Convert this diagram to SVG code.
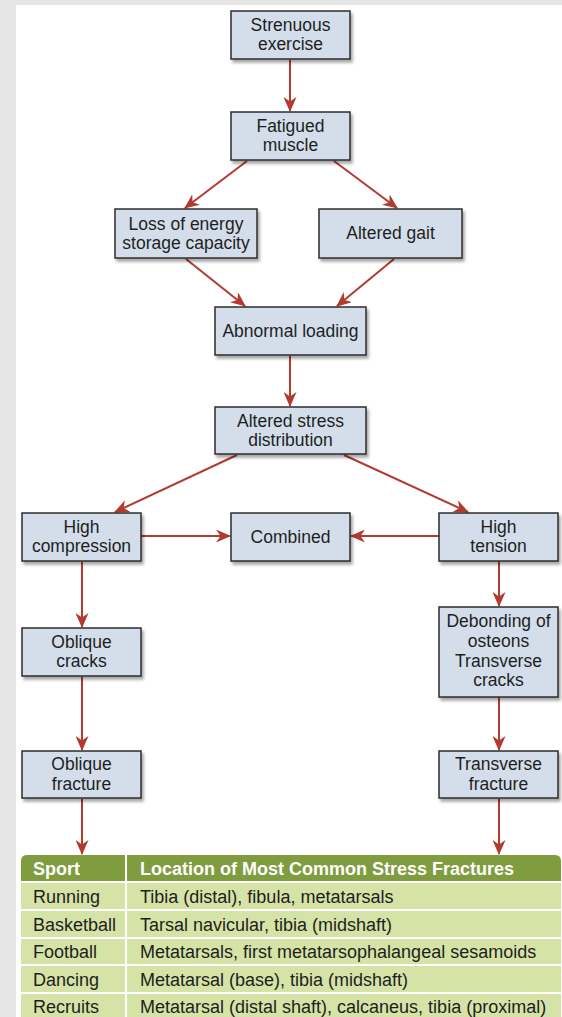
<svg xmlns="http://www.w3.org/2000/svg" width="562" height="1017" viewBox="0 0 562 1017">
<style>
.box{fill:#d3deea;stroke:#2b2b2b;stroke-width:1.5;filter:url(#sh)}
.t{font-family:"Liberation Sans",Arial,sans-serif;font-size:17.5px;fill:#1e1e1e;text-anchor:middle}
.c{stroke:#b23a2f;stroke-width:2;fill:none;marker-end:url(#ah)}
.tt{font-family:"Liberation Sans",Arial,sans-serif;font-size:18px;fill:#1e1e1e}
.th{font-family:"Liberation Sans",Arial,sans-serif;font-size:18px;font-weight:bold;fill:#ffffff}
.row{fill:#d6e3a6}
.sep{stroke:#ffffff;stroke-width:2}
</style>
<defs>
<filter id="sh" x="-10%" y="-10%" width="130%" height="140%">
<feDropShadow dx="2" dy="3" stdDeviation="1.8" flood-color="#000" flood-opacity="0.35"/>
</filter>
<marker id="ah" markerUnits="userSpaceOnUse" markerWidth="15" markerHeight="13" refX="14" refY="6.5" orient="auto" viewBox="0 0 15 13">
<path d="M0,0 L15,6.5 L0,13 L4.5,6.5 z" fill="#b23a2f"/>
</marker>
</defs>
<rect x="0" y="0" width="562" height="1017" fill="#e6e6e6"/>
<rect x="16" y="5" width="546" height="1012" fill="#ffffff"/>

<g id="connectors">
<line class="c" x1="290" y1="60" x2="290" y2="111"/>
<line class="c" x1="247" y1="161" x2="185" y2="208"/>
<line class="c" x1="334" y1="161" x2="397" y2="208"/>
<line class="c" x1="186" y1="259" x2="245" y2="306"/>
<line class="c" x1="394" y1="259" x2="337" y2="306"/>
<line class="c" x1="290" y1="356" x2="290" y2="406"/>
<line class="c" x1="237" y1="455" x2="115" y2="512"/>
<line class="c" x1="344" y1="455" x2="468" y2="512"/>
<line class="c" x1="141" y1="536" x2="230" y2="536"/>
<line class="c" x1="439" y1="536" x2="351" y2="536"/>
<line class="c" x1="82" y1="562" x2="82" y2="627"/>
<line class="c" x1="499" y1="562" x2="499" y2="606"/>
<line class="c" x1="82" y1="677" x2="82" y2="750"/>
<line class="c" x1="499" y1="698" x2="499" y2="750"/>
<line class="c" x1="82" y1="799" x2="82" y2="854"/>
<line class="c" x1="499" y1="799" x2="499" y2="854"/>
</g>

<g id="n1"><rect class="box" x="231" y="11" width="119" height="48"/>
<text class="t" x="290.5" y="30.5">Strenuous</text><text class="t" x="290.5" y="50">exercise</text></g>
<g id="n2"><rect class="box" x="231" y="112" width="119" height="48"/>
<text class="t" x="290.5" y="131.5">Fatigued</text><text class="t" x="290.5" y="151">muscle</text></g>
<g id="n3"><rect class="box" x="115" y="209" width="142" height="49"/>
<text class="t" x="186" y="229.5">Loss of energy</text><text class="t" x="186" y="249">storage capacity</text></g>
<g id="n4"><rect class="box" x="319" y="209" width="143" height="49"/>
<text class="t" x="390.5" y="239">Altered gait</text></g>
<g id="n5"><rect class="box" x="215" y="307" width="151" height="48"/>
<text class="t" x="290.5" y="337">Abnormal loading</text></g>
<g id="n6"><rect class="box" x="215" y="407" width="151" height="47"/>
<text class="t" x="290.5" y="426.5">Altered stress</text><text class="t" x="290.5" y="446">distribution</text></g>
<g id="n7"><rect class="box" x="22" y="513" width="119" height="48"/>
<text class="t" x="81.5" y="532.5">High</text><text class="t" x="81.5" y="552">compression</text></g>
<g id="n8"><rect class="box" x="231" y="513" width="119" height="48"/>
<text class="t" x="290.5" y="543">Combined</text></g>
<g id="n9"><rect class="box" x="439" y="513" width="119" height="48"/>
<text class="t" x="498.5" y="532.5">High</text><text class="t" x="498.5" y="552">tension</text></g>
<g id="n10"><rect class="box" x="22" y="628" width="119" height="48"/>
<text class="t" x="81.5" y="647.5">Oblique</text><text class="t" x="81.5" y="667">cracks</text></g>
<g id="n11"><rect class="box" x="439" y="607" width="119" height="90"/>
<text class="t" x="498.5" y="627">Debonding of</text><text class="t" x="498.5" y="647">osteons</text><text class="t" x="498.5" y="666.5">Transverse</text><text class="t" x="498.5" y="686">cracks</text></g>
<g id="n12"><rect class="box" x="22" y="751" width="119" height="47"/>
<text class="t" x="81.5" y="770">Oblique</text><text class="t" x="81.5" y="789.5">fracture</text></g>
<g id="n13"><rect class="box" x="439" y="751" width="119" height="47"/>
<text class="t" x="498.5" y="770">Transverse</text><text class="t" x="498.5" y="789.5">fracture</text></g>

<g id="table">
<path d="M21,882 L21,861 Q21,855 27,855 L555,855 Q561,855 561,861 L561,882 z" fill="#7f9c3e"/>
<rect class="row" x="21" y="882" width="540" height="135"/>
<line class="sep" x1="21" y1="882" x2="561" y2="882"/>
<line class="sep" x1="21" y1="910" x2="561" y2="910"/>
<line class="sep" x1="21" y1="938" x2="561" y2="938"/>
<line class="sep" x1="21" y1="965" x2="561" y2="965"/>
<line class="sep" x1="21" y1="993" x2="561" y2="993"/>
<line class="sep" x1="126" y1="855" x2="126" y2="1017"/>
<text class="th" x="33" y="875">Sport</text>
<text class="th" x="140" y="875">Location of Most Common Stress Fractures</text>
<text class="tt" x="33" y="903">Running</text>
<text class="tt" x="140" y="903">Tibia (distal), fibula, metatarsals</text>
<text class="tt" x="33" y="931">Basketball</text>
<text class="tt" x="140" y="931">Tarsal navicular, tibia (midshaft)</text>
<text class="tt" x="33" y="958">Football</text>
<text class="tt" x="140" y="958">Metatarsals, first metatarsophalangeal sesamoids</text>
<text class="tt" x="33" y="986">Dancing</text>
<text class="tt" x="140" y="986">Metatarsal (base), tibia (midshaft)</text>
<text class="tt" x="33" y="1013">Recruits</text>
<text class="tt" x="140" y="1013">Metatarsal (distal shaft), calcaneus, tibia (proximal)</text>
</g>
</svg>
